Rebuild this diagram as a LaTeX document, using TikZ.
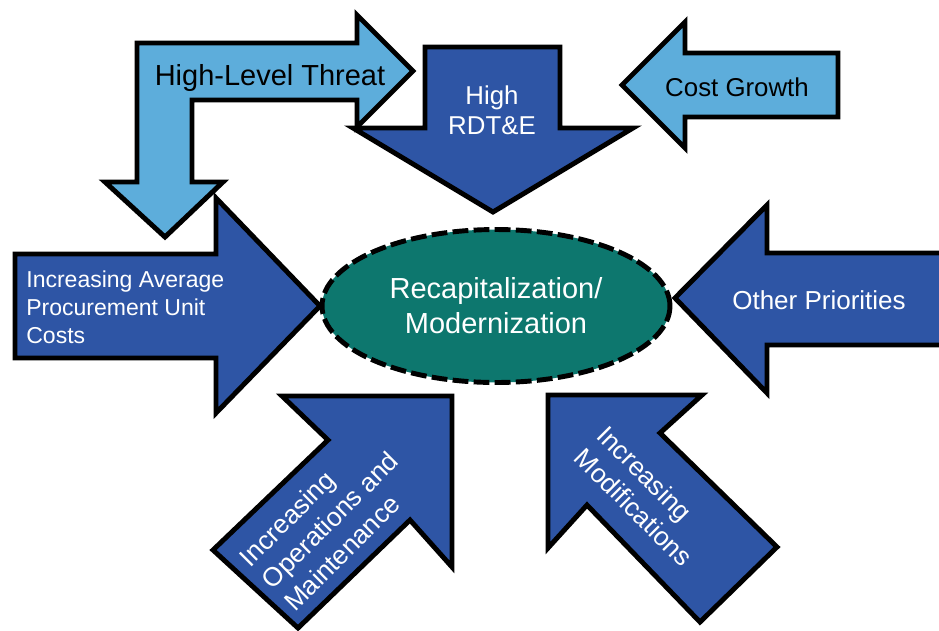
\documentclass[tikz,border=0pt]{standalone}
\usepackage{fontspec}
\setmainfont{Liberation Sans}
\usetikzlibrary{shapes.geometric}
\definecolor{arrowblue}{RGB}{46,85,165}
\definecolor{skyblue}{RGB}{93,173,219}
\definecolor{hubteal}{RGB}{13,119,110}

\begin{document}
\begin{tikzpicture}[x=0.02cm,y=-0.02cm,
	darkarrow/.style={draw=black,line width=2.8pt,fill=arrowblue},
	lightarrow/.style={draw=black,line width=2.8pt,fill=skyblue},
	whitetext/.style={text=white,inner sep=0pt},
	blacktext/.style={text=black,inner sep=0pt}]
			\useasboundingbox (0,0) rectangle (939,630);
			
			\draw[lightarrow] (137,43) -- (357,43) -- (357,15) -- (413,71) -- (357,127) -- (357,100) -- (192,100) -- (192,182) -- (223,182) -- (165,237) -- (105,182) -- (137,182) -- cycle;
			\draw[darkarrow] (425,47) -- (560,47) -- (560,128) -- (633,128) -- (493,212) -- (353,128) -- (425,128) -- cycle;
			\draw[lightarrow] (838,53) -- (685,53) -- (685,22) -- (622,85) -- (685,148) -- (685,117) -- (838,117) -- cycle;
			\draw[darkarrow] (15,254) -- (216,254) -- (216,198) -- (320,306) -- (216,413) -- (216,358) -- (15,358) -- cycle;
			\draw[darkarrow] (952,253) -- (767,253) -- (767,205) -- (675,298) -- (767,393) -- (767,345) -- (952,345) -- cycle;
			\draw[darkarrow] (282,396) -- (452,396) -- (452,567) -- (410,520) -- (298,628) -- (213,550) -- (328,440) -- cycle;
			\draw[darkarrow] (548,395) -- (702,395) -- (660,433) -- (777,547) -- (700,622) -- (587,505) -- (548,548) -- cycle;
			
			\node[blacktext,anchor=base,font=\fontsize{16.5}{20}\selectfont] (threat) at (270,85) {High-Level Threat};
			\node[whitetext,align=center,font=\fontsize{14.7}{17}\selectfont] (rdte) at (492,110) {High\\RDT\&E};
			\node[blacktext,font=\fontsize{14.7}{17}\selectfont] (cost) at (737,87) {Cost Growth};
			\node[whitetext,anchor=west,align=left,font=\fontsize{13.1}{15.9}\selectfont] (unitcost) at (26,307) {Increasing Average\\Procurement Unit\\Costs};
			\node[whitetext,font=\fontsize{14.8}{17}\selectfont] (other) at (819,300) {Other Priorities};
			\node[whitetext,rotate=45,align=left,font=\fontsize{15}{18}\selectfont] (opsmaint) at (330,520) {Increasing\\Operations and\\Maintenance};
			\node[whitetext,rotate=-45,align=left,font=\fontsize{15}{18}\selectfont] (mods) at (645,496) {Increasing\\Modifications};
			
			\node[ellipse,draw=black,line width=2.8pt,dash pattern=on 9pt off 3pt,fill=hubteal,minimum width=6.96cm,minimum height=3.06cm,inner sep=0pt,text=white,align=center,font=\fontsize{16.5}{20}\selectfont] (hub) at (496,306) {Recapitalization/\\Modernization};
\end{tikzpicture}
\end{document}
